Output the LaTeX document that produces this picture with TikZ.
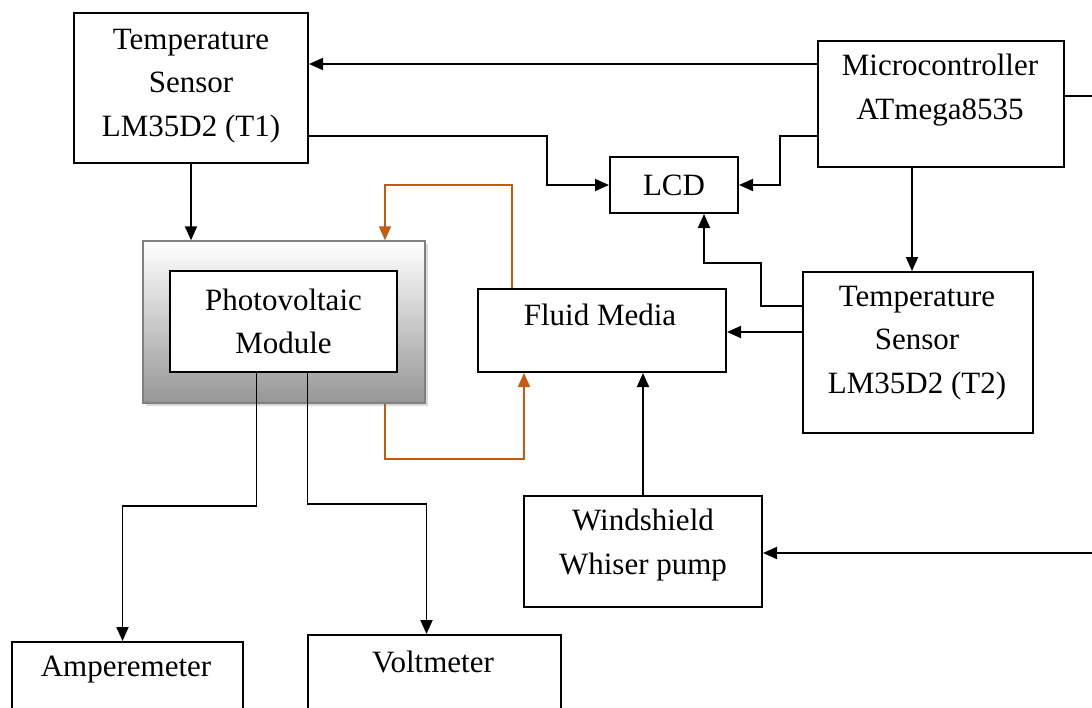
\documentclass[tikz,border=0pt]{standalone}
\usepackage{fontspec}
\setmainfont{Liberation Serif}
\usetikzlibrary{arrows.meta,shadows}
\definecolor{flowbrown}{HTML}{C55A11}
\definecolor{panelgray}{HTML}{969696}
\tikzset{
  blk/.style={draw=black, line width=2pt, fill=white, inner sep=0pt},
  txt/.style={align=center, font=\fontsize{31}{43.5}\selectfont},
  arr/.style={line width=1.9pt, -{Triangle[length=14pt,width=12pt]}},
  oarr/.style={line width=1.7pt, flowbrown, -{Triangle[length=14pt,width=12pt]}},
  wire/.style={line width=1.9pt}
}
\begin{document}
\begin{tikzpicture}[x=1pt, y=-1pt]
  \clip (0,0) rectangle (1092,707);

  % --- sensoren en controller ---
  \node[blk, minimum width=234, minimum height=150] (t1) at (191,88) {};
  \node[txt] (t1txt) at (191,86) {Temperature\\Sensor\\LM35D2 (T1)};

  \node[blk, minimum width=246, minimum height=126] (mcu) at (941,104) {};
  \node[txt] (mcutxt) at (940,90) {Microcontroller\\ATmega8535};

  \node[blk, minimum width=128, minimum height=56] (lcd) at (674,185) {};
  \node[txt] (lcdtxt) at (674,185) {LCD};

  \node[blk, minimum width=230, minimum height=161] (t2) at (918,352.5) {};
  \node[txt] (t2txt) at (917,343) {Temperature\\Sensor\\LM35D2 (T2)};

  % --- PV module ---
  \node[draw=gray, line width=1.4pt, top color=white, bottom color=panelgray,
        drop shadow={shadow xshift=3pt, shadow yshift=-3pt, opacity=.3},
        minimum width=282, minimum height=162] (pvo) at (284,322) {};
  \node[blk, minimum width=227, minimum height=101] (pv) at (283.5,321.5) {};
  \node[txt] (pvtxt) at (283.5,321.5) {Photovoltaic\\Module};

  % --- vloeistof en pomp ---
  \node[blk, minimum width=248, minimum height=83] (fluid) at (602,330.5) {};
  \node[txt] (fluidtxt) at (600,315) {Fluid Media};

  \node[blk, minimum width=238, minimum height=111] (pump) at (643,551.5) {};
  \node[txt] (pumptxt) at (643,545) {Windshield\\Whiser pump};

  % --- meters ---
  \node[blk, minimum width=231, minimum height=120] (amp) at (127.5,702) {};
  \node[txt] (amptxt) at (126,670) {Amperemeter};
  \node[blk, minimum width=253, minimum height=120] (volt) at (434.5,695) {};
  \node[txt] (volttxt) at (433,662) {Voltmeter};

  % poorten
  \coordinate (mcuA) at ([yshift=-24pt]mcu.north west);
  \coordinate (mcuB) at ([yshift=-96pt]mcu.north west);
  \coordinate (mcuC) at ([yshift=-56pt]mcu.north east);
  \coordinate (t1B) at ([yshift=-124pt]t1.north east);
  \coordinate (t2A) at ([yshift=-35pt]t2.north west);
  \coordinate (t2B) at ([yshift=-61pt]t2.north west);
  \coordinate (edgeA) at (mcuC -| 1100,0);
  \coordinate (edgeB) at (1100,553);

  % verbindingen
  \draw[arr] (mcuA) -- (mcuA -| t1.east);
  \draw[wire] (mcuC) -- (edgeA);
  \draw[arr] (edgeB) -- (edgeB -| pump.east);
  \draw[arr] (t1B) -| ([xshift=-62pt]lcd.west) -- (lcd.west);
  \draw[arr] (mcuB) -| ([xshift=41pt]lcd.east) -- (lcd.east);
  \draw[arr] ([xshift=-29pt]mcu.south) -- ([xshift=-6pt]t2.north);
  \draw[arr] (t2A) -- ++(-41,0) |- ([xshift=30pt, yshift=-49pt]lcd.south) -- ([xshift=30pt]lcd.south);
  \draw[arr] (t2B) -- (t2B -| fluid.east);
  \draw[arr] (t1.south) -- (t1.south |- pvo.north);
  \draw[arr] (pump.north) -- (pump.north |- fluid.south);
  \draw[arr] ([xshift=-27pt]pv.south) -- ++(0,133) -| ([xshift=-5pt]amp.north);
  \draw[arr] ([xshift=24pt]pv.south) -- ++(0,131) -| ([xshift=-8pt]volt.north);

  % kringloop vloeistof
  \draw[oarr] ([xshift=-90pt]fluid.north) -- ++(0,-103) -| ([xshift=101pt]pvo.north);
  \draw[oarr] ([xshift=101pt]pvo.south) -- ++(0,55) -| ([xshift=-78pt]fluid.south);
\end{tikzpicture}
\end{document}
